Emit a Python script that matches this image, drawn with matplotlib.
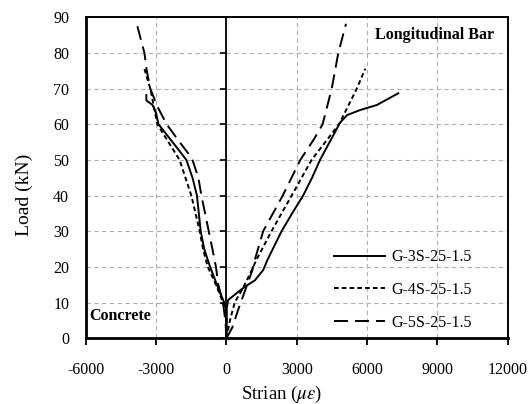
import matplotlib
matplotlib.use("Agg")
import matplotlib.pyplot as plt
from matplotlib.lines import TICKLEFT

plt.rcParams['font.family'] = ['Liberation Serif', 'DejaVu Serif']
plt.rcParams['mathtext.fontset'] = 'stix'
plt.rcParams['axes.unicode_minus'] = False

# concrete strain (negative) and bar strain (positive) against load, per specimen
labels = ['G-3S-25-1.5', 'G-4S-25-1.5', 'G-5S-25-1.5']

conc_3s = [0, 0, -100, -350, -700, -950, -1100, -1260, -1450, -1710, -2300, -2900, -3000, -3150, -3420, -3420]
load_c3s = [0, 8, 10, 14, 20, 25, 30, 40, 45, 50, 55, 60, 63, 65.4, 66.7, 68.2]
bar_3s = [0, 0, 70, 430, 780, 1210, 1565, 1750, 2050, 2350, 2800, 3270, 3650, 3990, 4400, 4850, 5150, 5700, 6410, 7330]
load_b3s = [0, 8, 10.7, 12.6, 14.4, 16.2, 19.1, 22, 26, 30, 35, 40, 45, 50, 55, 60.5, 62.6, 64, 65.4, 68.7]

conc_4s = [0, 0, -150, -450, -800, -1000, -1140, -1500, -2000, -2950, -3100, -3250, -3500]
load_c4s = [0, 7, 10, 15, 20, 25, 30, 40, 50, 60, 65, 70, 75.5]
bar_4s = [0, 150, 350, 700, 1000, 1280, 1920, 2780, 3630, 4800, 5560, 5920]
load_b4s = [0, 5, 10, 14, 18, 22, 30, 40, 50, 60, 70, 75.6]

conc_5s = [0, -50, -150, -350, -450, -600, -756, -1070, -1200, -1450, -1650, -2000, -2550, -2950, -3250, -3400, -3500, -3830]
load_c5s = [0, 5, 10, 15, 20, 25, 30, 40, 45, 50, 52, 55, 60, 65, 70, 75, 80, 88.2]
bar_5s = [0, 250, 500, 850, 1100, 1210, 1565, 2400, 3150, 3750, 4100, 4490, 4770, 5100]
load_b5s = [0, 3, 8, 14.4, 19, 22, 30, 40, 50, 56, 60, 70, 80, 88.2]

xticks = [-6000, -3000, 0, 3000, 6000, 9000, 12000]
yticks = [0, 10, 20, 30, 40, 50, 60, 70, 80, 90]

fig, ax = plt.subplots(figsize=(5.3, 4.04), dpi=100)
fig.subplots_adjust(left=0.162, right=0.958, top=0.957, bottom=0.163)

lw = 1.4
ax.plot(bar_3s, load_b3s, color='k', lw=lw, label=labels[0])
ax.plot(conc_3s, load_c3s, color='k', lw=lw)
ax.plot(bar_4s, load_b4s, color='k', lw=lw, dashes=(2.4, 1.6), label=labels[1])
ax.plot(conc_4s, load_c4s, color='k', lw=lw, dashes=(2.4, 1.6))
ax.plot(bar_5s, load_b5s, color='k', lw=lw, dashes=(7.2, 3.6), label=labels[2])
ax.plot(conc_5s, load_c5s, color='k', lw=lw, dashes=(7.2, 3.6))

# zero-strain line with its own tick marks
ax.axvline(0, color='k', lw=1.3, zorder=3)
ax.plot([0] * len(yticks), yticks, linestyle='none', marker=TICKLEFT, ms=4, mew=1.2, color='k', zorder=3)

ax.set_xlim(-6000, 12000)
ax.set_ylim(0, 90)
ax.set_xticks(xticks)
ax.set_yticks(yticks)
ax.grid(True, color='#b0b0b0', linestyle=(0, (4, 3)), lw=0.8)
ax.set_axisbelow(True)

ax.tick_params(axis='x', direction='out', length=5, width=1.3, pad=12, labelsize=11.5)
ax.tick_params(axis='y', length=0, pad=12, labelsize=11.5)

for side in ['left', 'bottom']:
    ax.spines[side].set_linewidth(2)
for side in ['top', 'right']:
    ax.spines[side].set_linewidth(1.4)

ax.set_xlabel(r'Strian ($\mu\varepsilon$)', fontsize=13.5)
ax.set_ylabel('Load (kN)', fontsize=14)
ax.xaxis.set_label_coords(0.464, -0.142)
ax.yaxis.set_label_coords(-0.125, 0.447)

ax.text(0.685, 0.945, 'Longitudinal Bar', transform=ax.transAxes, fontsize=11.5,
        fontweight='bold', va='center')
ax.text(0.008, 0.07, 'Concrete', transform=ax.transAxes, fontsize=11.5,
        fontweight='bold', va='center')

ax.legend(loc='lower left', bbox_to_anchor=(0.553, -0.022), frameon=False, fontsize=11.5,
          handlelength=3.25, handletextpad=0.4, labelspacing=1.05)

plt.savefig('out.png', dpi=100)
